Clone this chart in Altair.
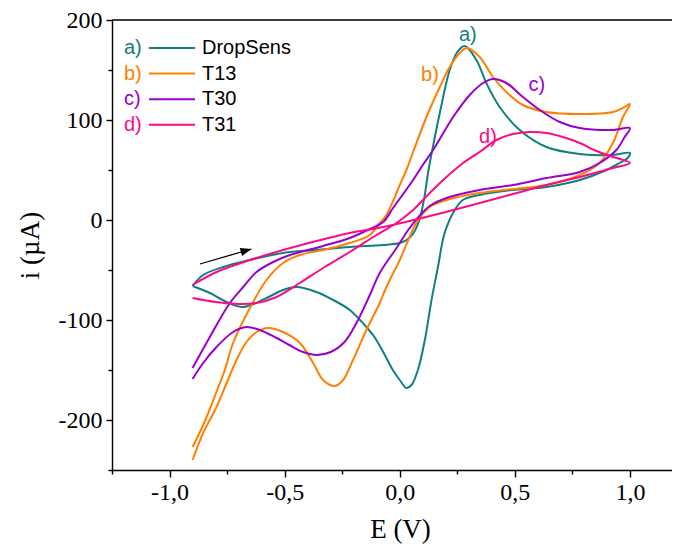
import altair as alt
import pandas as pd

# ------------------------------------------------------------------ data
SERIES = ["DropSens", "T13", "T30", "T31"]
TAGS = ["a)", "b)", "c)", "d)"]
COLORS = ["#0E8080", "#FF8000", "#9900CC", "#FF0A85"]

# DropSens: forward scan then reverse scan (E in V, i in µA)
dropsens_E = [-0.9, -0.854, -0.767, -0.651, -0.507, -0.362, -0.217, -0.072, 0.0, 0.03,
              0.06, 0.085, 0.105, 0.125, 0.15, 0.174, 0.217, 0.25, 0.282, 0.333,
              0.376, 0.434, 0.521, 0.637, 0.782, 0.926, 1.0,
              0.99, 0.955, 0.898, 0.782, 0.637, 0.491, 0.347, 0.274, 0.239, 0.195,
              0.166, 0.138, 0.109, 0.079, 0.051, 0.029, 0.0, -0.03, -0.072, -0.11,
              -0.145, -0.217, -0.289, -0.362, -0.449, -0.507, -0.579, -0.68, -0.752, -0.825, -0.9]
dropsens_I = [-66, -55, -47, -40, -33, -30, -27, -25, -23, -20,
              -13, 0, 20, 50, 80, 107, 150, 168, 174, 160,
              137, 113, 90, 73, 66, 65, 67,
              62, 57, 50, 40, 33, 30, 25, 20, 10, -13,
              -47, -80, -120, -150, -165, -168, -160, -150, -132, -117,
              -107, -90, -80, -72, -67, -70, -78, -87, -82, -73, -66]

t13_E = [-0.9, -0.85, -0.793, -0.76, -0.724, -0.651, -0.579, -0.507, -0.434, -0.333,
         -0.217, -0.13, -0.087, -0.058, 0.0, 0.029, 0.058, 0.116, 0.174, 0.217,
         0.26, 0.293, 0.347, 0.405, 0.463, 0.535, 0.637, 0.782, 0.926, 0.977, 1.0,
         0.97, 0.926, 0.868, 0.782, 0.637, 0.492, 0.347, 0.203, 0.13, 0.072,
         0.0, -0.058, -0.087, -0.145, -0.203, -0.246, -0.282, -0.333, -0.376, -0.434,
         -0.507, -0.572, -0.622, -0.666, -0.709, -0.752, -0.796, -0.854, -0.9]
t13_I = [-227, -203, -170, -150, -123, -88, -60, -43, -35, -30,
         -23, -15, -3, 5, 35, 50, 68, 103, 133, 153,
         167, 172, 163, 143, 128, 115, 108, 106, 108, 113, 116,
         103, 77, 57, 45, 35, 31, 27, 20, 13, -3,
         -40, -67, -83, -110, -140, -160, -166, -160, -143, -123,
         -112, -108, -112, -122, -140, -163, -187, -213, -240]

t30_E = [-0.9, -0.825, -0.738, -0.68, -0.622, -0.55, -0.477, -0.333, -0.217, -0.13,
         -0.072, -0.029, 0.058, 0.1, 0.145, 0.232, 0.304, 0.362, 0.405, 0.463,
         0.535, 0.608, 0.695, 0.782, 0.926, 1.0,
         0.977, 0.941, 0.868, 0.782, 0.637, 0.492, 0.347, 0.203, 0.13, 0.101,
         0.043, -0.014, -0.087, -0.13, -0.188, -0.24, -0.3, -0.36, -0.42, -0.48,
         -0.535, -0.608, -0.666, -0.724, -0.796, -0.854, -0.9]
t30_I = [-148, -117, -83, -67, -52, -42, -35, -26, -18, -9,
         -2, 12, 40, 55, 70, 103, 125, 137, 141, 137,
         123, 110, 98, 92, 90, 92,
         83, 70, 57, 48, 42, 35, 30, 22, 14, 8,
         -8, -28, -53, -75, -103, -122, -132, -135, -132, -125,
         -118, -110, -107, -112, -127, -143, -159]

t31_E = [-0.9, -0.796, -0.651, -0.507, -0.362, -0.217, -0.072, 0.043, 0.2, 0.347,
         0.492, 0.637, 0.782, 0.926, 1.0,
         0.926, 0.854, 0.782, 0.709, 0.637, 0.564, 0.492, 0.42, 0.347, 0.275,
         0.203, 0.13, 0.058, -0.014, -0.101, -0.217, -0.333, -0.434, -0.535, -0.622,
         -0.7, -0.8, -0.9]
t31_I = [-65, -52, -40, -30, -21, -13, -7, -1, 8, 17,
         26, 35, 43, 52, 57,
         63, 69, 77, 83, 87, 88, 86, 80, 68, 57,
         43, 27, 10, -3, -15, -32, -48, -63, -77, -83,
         -84, -82, -78]

# peak annotations (data coordinates)
peak_E = [0.296, 0.131, 0.595, 0.383]
peak_I = [185, 145, 135, 83]

# scan-direction arrow (data coordinates)
arrow_E = [-0.868, -0.644]
arrow_I = [-44, -29]

X_MIN, X_MAX = -1.25, 1.1827
Y_MIN, Y_MAX = -250, 200
X_TICKS = [-1.25, -1.0, -0.75, -0.5, -0.25, 0.0, 0.25, 0.5, 0.75, 1.0]
Y_TICKS = [-250, -200, -150, -100, -50, 0, 50, 100, 150, 200]

# ------------------------------------------------------------------ layout
W, H = 560, 450
SANS = "Liberation Sans"
SERIF = "Liberation Serif"


def px_to_E(px):
    return X_MIN + px * (X_MAX - X_MIN) / W


def py_to_I(py):
    return Y_MAX - py * (Y_MAX - Y_MIN) / H


rows = []
for name, es, is_ in zip(SERIES, [dropsens_E, t13_E, t30_E, t31_E],
                         [dropsens_I, t13_I, t30_I, t31_I]):
    for k, (e, i) in enumerate(zip(es, is_)):
        rows.append({"series": name, "idx": k, "E": e, "i": i})
curves = pd.DataFrame(rows)

peaks = pd.DataFrame({"series": SERIES, "tag": TAGS, "E": peak_E, "i": peak_I})

leg_rows_py = [28 + 25.6 * k for k in range(4)]
legend = pd.DataFrame({
    "series": SERIES,
    "tag": TAGS,
    "name": SERIES,
    "i": [py_to_I(p) for p in leg_rows_py],
    "E": [px_to_E(12)] * 4,
    "E_l0": [px_to_E(37)] * 4,
    "E_l1": [px_to_E(83)] * 4,
    "E_name": [px_to_E(90)] * 4,
})

arrow = pd.DataFrame({"E": [arrow_E[0]], "i": [arrow_I[0]],
                      "E2": [arrow_E[1]], "i2": [arrow_I[1]]})
arrow_head = pd.DataFrame({"E": [arrow_E[1]], "i": [arrow_I[1]]})
border = pd.DataFrame({"E": [X_MIN], "E2": [X_MAX], "i": [Y_MAX]})

xscale = alt.Scale(domain=[X_MIN, X_MAX], nice=False, zero=False)
yscale = alt.Scale(domain=[Y_MIN, Y_MAX], nice=False, zero=False)
cscale = alt.Scale(domain=SERIES, range=COLORS)

x_axis = alt.Axis(
    title="E (V)", values=X_TICKS, grid=False,
    labelExpr="abs(datum.value % 0.5) < 1e-9 ? (datum.value < 0 ? '-' : '') + "
              "replace(format(abs(datum.value), '.1f'), '.', ',') : ''",
    tickSize={"condition": {"test": "abs(datum.value % 0.5) > 1e-9", "value": 4}, "value": 7},
    labelFont=SERIF, labelFontSize=24, labelColor="black", labelPadding=3,
    labelFlush=False, labelOverlap=False,
    titleFont=SERIF, titleFontSize=27, titleFontWeight="normal", titleColor="black",
    titleX=288, titleY=59, titleBaseline="middle",
    domainColor="black", domainWidth=1.4, tickColor="black", tickWidth=1.4,
)
y_axis = alt.Axis(
    title="i (µA)", values=Y_TICKS, grid=False,
    labelExpr="datum.value % 100 === 0 ? '' + datum.value : ''",
    tickSize={"condition": {"test": "datum.value % 100 !== 0", "value": 4}, "value": 6},
    labelFont=SERIF, labelFontSize=24, labelColor="black", labelPadding=4,
    labelFlush=False, labelOverlap=False,
    titleFont=SERIF, titleFontSize=27, titleFontWeight="normal", titleColor="black",
    titleX=-82, titleY=225, titleBaseline="middle", titleAlign="center",
    domainColor="black", domainWidth=1.4, tickColor="black", tickWidth=1.4,
)


def X(field):
    return alt.X(field, scale=xscale, axis=x_axis, title="E (V)")


def Y(field):
    return alt.Y(field, scale=yscale, axis=y_axis, title="i (µA)")


lines = alt.Chart(curves).mark_line(strokeWidth=2, interpolate="catmull-rom").encode(
    x=X("E:Q"),
    y=Y("i:Q"),
    color=alt.Color("series:N", scale=cscale, legend=None),
    order=alt.Order("idx:Q"),
    detail="series:N",
)

peak_text = alt.Chart(peaks).mark_text(font=SANS, fontSize=20, align="center",
                                       baseline="middle").encode(
    x=X("E:Q"), y=Y("i:Q"),
    text="tag:N",
    color=alt.Color("series:N", scale=cscale, legend=None),
)

leg_tag = alt.Chart(legend).mark_text(font=SANS, fontSize=20, align="left",
                                      baseline="middle").encode(
    x=X("E:Q"), y=Y("i:Q"),
    text="tag:N",
    color=alt.Color("series:N", scale=cscale, legend=None),
)
leg_line = alt.Chart(legend).mark_rule(strokeWidth=2).encode(
    x=X("E_l0:Q"), x2="E_l1:Q", y=Y("i:Q"),
    color=alt.Color("series:N", scale=cscale, legend=None),
)
leg_name = alt.Chart(legend).mark_text(font=SANS, fontSize=20, align="left",
                                       baseline="middle", color="black").encode(
    x=X("E_name:Q"), y=Y("i:Q"),
    text="name:N",
)

arrow_line = alt.Chart(arrow).mark_rule(strokeWidth=1.3, color="black").encode(
    x=X("E:Q"), y=Y("i:Q"), x2="E2:Q", y2="i2:Q",
)
arrow_tip = alt.Chart(arrow_head).mark_point(
    shape="M0,0L-2,-0.75L-2,0.75Z", filled=True, color="black", opacity=1,
    size=121, angle=344,
).encode(x=X("E:Q"), y=Y("i:Q"))

top_border = alt.Chart(border).mark_rule(strokeWidth=1.4, color="black").encode(
    x=X("E:Q"), x2="E2:Q", y=Y("i:Q"),
)

chart = alt.layer(
    lines, peak_text, leg_tag, leg_line, leg_name, arrow_line, arrow_tip, top_border
).properties(
    width=W, height=H,
    autosize=alt.AutoSizeParams(type="none"),
    padding={"left": 104, "top": 12, "right": 0, "bottom": 74},
).configure_view(strokeOpacity=0, strokeWidth=0, stroke="transparent").configure(
    background="white")

chart.save("out.html", embed_options={"renderer": "svg", "actions": False})
